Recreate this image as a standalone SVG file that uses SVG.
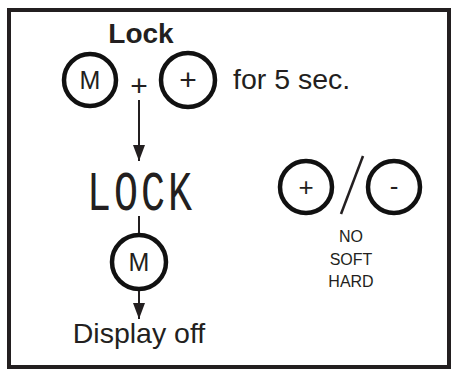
<svg xmlns="http://www.w3.org/2000/svg" width="458" height="371" viewBox="0 0 458 371">
<style>
.btn{fill:none;stroke:#111;stroke-width:4.5}
.t{font-family:"Liberation Sans",Arial,sans-serif;fill:#231f20}
.ln{stroke:#231f20;stroke-width:2;fill:none}
</style>
<defs>
<marker id="ah" viewBox="0 0 16 12" refX="16" refY="6" markerWidth="16" markerHeight="12" markerUnits="userSpaceOnUse" orient="auto">
<path d="M0,0 L16,6 L0,12 Z" fill="#231f20"/>
</marker>
</defs>
<rect x="9" y="10" width="440" height="357" fill="#fff" stroke="#231f20" stroke-width="4"/>
<g id="title"><text class="t" x="141" y="43" font-size="28" font-weight="bold" text-anchor="middle">Lock</text></g>
<g id="btnM1"><circle class="btn" cx="90" cy="80" r="26"/><text class="t" x="90" y="89" font-size="25" text-anchor="middle">M</text></g>
<g id="plus"><text class="t" x="139" y="96" font-size="30" text-anchor="middle">+</text></g>
<g id="btnPlus1"><circle class="btn" cx="188" cy="80" r="27"/><text class="t" x="188" y="90" font-size="30" text-anchor="middle">+</text></g>
<g id="for5"><text class="t" x="233" y="89" font-size="28.5">for 5 sec.</text></g>
<g id="lcd"><text x="0" y="0" transform="translate(141,210) scale(1,1.38)" font-family="Liberation Mono,monospace" font-size="40" letter-spacing="3" text-anchor="middle" fill="#231f20">LOCK</text></g>
<g id="btnM2"><circle class="btn" cx="139" cy="262" r="27"/><text class="t" x="139" y="271" font-size="25" text-anchor="middle">M</text></g>
<g id="displayoff"><text class="t" x="139" y="343" font-size="28.5" text-anchor="middle">Display off</text></g>
<g id="btnPlus2"><circle class="btn" cx="306" cy="187" r="26"/><text class="t" x="306" y="196" font-size="26" text-anchor="middle">+</text></g>
<g id="slash"><line x1="363" y1="156" x2="341" y2="214" stroke="#231f20" stroke-width="2.5"/></g>
<g id="btnMinus"><circle class="btn" cx="394" cy="187" r="26"/><text class="t" x="394" y="195" font-size="26" text-anchor="middle">-</text></g>
<g id="modes"><text class="t" x="351" y="242" font-size="16" text-anchor="middle">NO</text><text class="t" x="351" y="265" font-size="16" text-anchor="middle">SOFT</text><text class="t" x="351" y="287" font-size="16" text-anchor="middle">HARD</text></g>
<g id="connectors">
<line class="ln" x1="139" y1="100" x2="139" y2="161" marker-end="url(#ah)"/>
<line class="ln" x1="139" y1="216" x2="139" y2="233"/>
<line class="ln" x1="139" y1="291" x2="139" y2="319" marker-end="url(#ah)"/>
</g>
</svg>
